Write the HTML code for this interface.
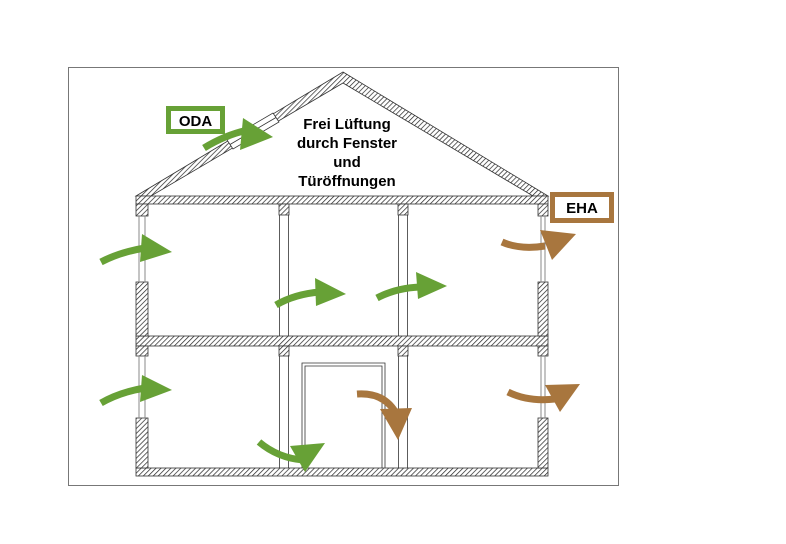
<!DOCTYPE html>
<html><head><meta charset="utf-8"><style>
html,body{margin:0;padding:0;background:#fff;}
svg{display:block;}
text{font-family:"Liberation Sans",sans-serif;font-weight:bold;}
</style></head><body>
<svg width="786" height="544" viewBox="0 0 786 544">
<defs>
<pattern id="h" patternUnits="userSpaceOnUse" width="3.5" height="3.5" patternTransform="rotate(45)">
<rect width="4" height="4" fill="#fff"/><line x1="0" y1="0" x2="0" y2="4" stroke="#222" stroke-width="1.4"/>
</pattern>
</defs>
<rect x="68.5" y="67.5" width="550" height="418" fill="none" stroke="#777" stroke-width="1"/>
<!-- roof -->
<polygon points="136,196 343,72 548,196 533,196 343,83 151,196" fill="url(#h)" stroke="#333" stroke-width="0.8"/>
<!-- roof window -->
<polygon points="227,140 273,113 279,122 233,149" fill="#fff" stroke="#333" stroke-width="0.8"/>
<line x1="230" y1="144.5" x2="276" y2="117.5" stroke="#333" stroke-width="0.8"/>
<!-- slabs -->
<rect x="136" y="196" width="412" height="8" fill="url(#h)" stroke="#333" stroke-width="0.8"/>
<rect x="136" y="336" width="412" height="10" fill="url(#h)" stroke="#333" stroke-width="0.8"/>
<rect x="136" y="468" width="412" height="8" fill="url(#h)" stroke="#333" stroke-width="0.8"/>
<g fill="url(#h)" stroke="#333" stroke-width="0.8">
<rect x="136" y="204" width="12" height="12"/>
<rect x="136" y="282" width="12" height="54"/>
<rect x="136" y="346" width="12" height="10"/>
<rect x="136" y="418" width="12" height="50"/>
<rect x="538" y="204" width="10" height="12"/>
<rect x="538" y="282" width="10" height="54"/>
<rect x="538" y="346" width="10" height="10"/>
<rect x="538" y="418" width="10" height="50"/>
<rect x="279" y="204" width="10" height="11"/>
<rect x="279" y="346" width="10" height="10"/>
<rect x="398" y="204" width="10" height="11"/>
<rect x="398" y="346" width="10" height="10"/>
</g>
<g stroke="#888" stroke-width="1">
<line x1="139" y1="216" x2="139" y2="282"/><line x1="145" y1="216" x2="145" y2="282"/>
<line x1="139" y1="356" x2="139" y2="418"/><line x1="145" y1="356" x2="145" y2="418"/>
<line x1="541" y1="216" x2="541" y2="282"/><line x1="545" y1="216" x2="545" y2="282"/>
<line x1="541" y1="356" x2="541" y2="418"/><line x1="545" y1="356" x2="545" y2="418"/>
</g>
<g stroke="#333" stroke-width="0.8">
<line x1="279.5" y1="215" x2="279.5" y2="336"/><line x1="288.5" y1="215" x2="288.5" y2="336"/>
<line x1="279.5" y1="356" x2="279.5" y2="468"/><line x1="288.5" y1="356" x2="288.5" y2="468"/>
<line x1="398.5" y1="215" x2="398.5" y2="336"/><line x1="407.5" y1="215" x2="407.5" y2="336"/>
<line x1="398.5" y1="356" x2="398.5" y2="468"/><line x1="407.5" y1="356" x2="407.5" y2="468"/>
</g>
<path d="M302 468 V363 H385 V468" fill="none" stroke="#333" stroke-width="0.8"/>
<path d="M305 468 V366 H382 V468" fill="none" stroke="#333" stroke-width="0.8"/>
<g fill="none" stroke="#67a136" stroke-width="7">
<path d="M204 148 Q225 135 248 130"/>
<path d="M101 262 Q120 252 145 248"/>
<path d="M276 305 Q295 294 320 292"/>
<path d="M377 298 Q396 288 420 287"/>
<path d="M101 403 Q120 392 145 388"/>
<path d="M259 442 Q278 458 303 460"/>
</g>
<g fill="#67a136">
<polygon points="243,118 273,137 240,150"/>
<polygon points="142,234 172,252 140,262"/>
<polygon points="315,278 346,294 316,306"/>
<polygon points="416,272 447,286 418,299"/>
<polygon points="142,375 172,390 140,402"/>
<polygon points="290,446 325,443 305,472"/>
</g>
<g fill="none" stroke="#a8763e" stroke-width="7">
<path d="M502 242 Q520 250 545 246"/>
<path d="M357 394 Q385 392 397 415"/>
<path d="M508 392 Q528 402 555 399"/>
</g>
<g fill="#a8763e">
<polygon points="540,230 576,234 552,260"/>
<polygon points="380,409 412,408 398,440"/>
<polygon points="545,385 580,384 560,412"/>
</g>
<rect x="168.5" y="108.5" width="54" height="23" fill="#fff" stroke="#67a136" stroke-width="5"/>
<text x="195.5" y="126" font-size="15" text-anchor="middle">ODA</text>
<rect x="552.5" y="194.5" width="59" height="26" fill="#fff" stroke="#a8763e" stroke-width="5"/>
<text x="582" y="213" font-size="15" text-anchor="middle">EHA</text>
<g font-size="15" text-anchor="middle">
<text x="347" y="129">Frei Lüftung</text>
<text x="347" y="148">durch Fenster</text>
<text x="347" y="167">und</text>
<text x="347" y="186">Türöffnungen</text>
</g>
</svg>
</body></html>
